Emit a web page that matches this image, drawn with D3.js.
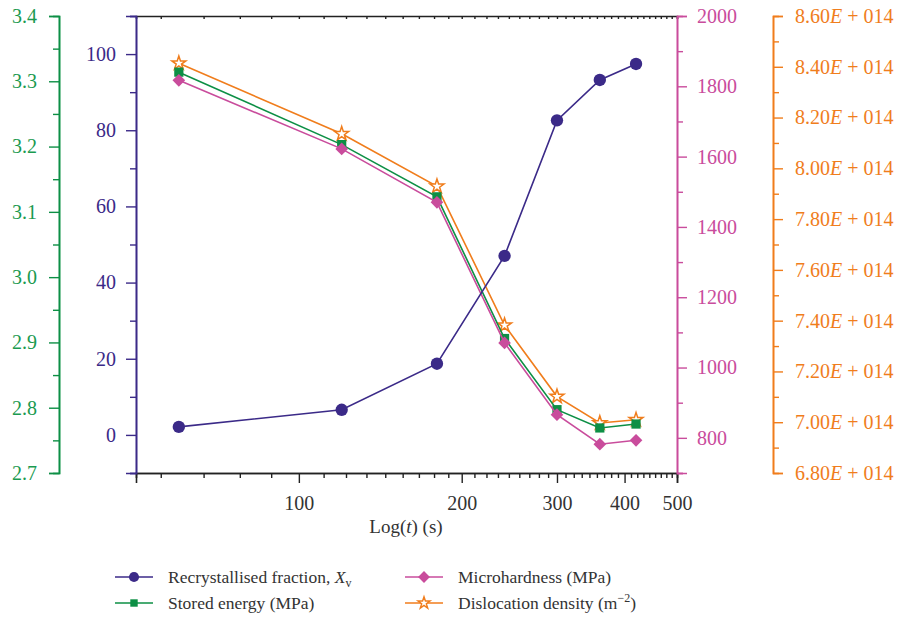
<!DOCTYPE html>
<html><head><meta charset="utf-8">
<script src="https://cdn.jsdelivr.net/npm/d3@7"></script>
<style>
body{margin:0;background:#fff;}
svg{font-family:"Liberation Serif","Times New Roman",serif;}
</style></head>
<body><svg id="c" width="899" height="618"></svg>
<script>
// ---- data ----
const times = [60, 120, 180, 240, 300, 360, 420];
const recrystallised = [2.1, 6.6, 18.7, 47, 82.6, 93.2, 97.4];
const storedEnergy = [3.314, 3.203, 3.123, 2.906, 2.797, 2.769, 2.775];
const microhardness = [1817, 1622, 1470, 1070, 866, 782, 793];
const dislocation = [8.414, 8.136, 7.929, 7.382, 7.101, 6.997, 7.010]; // x 1e14
const xTicks = [100, 200, 300, 400, 500];
const recTicks = [0, 20, 40, 60, 80, 100];
const energyTicks = [2.7, 2.8, 2.9, 3.0, 3.1, 3.2, 3.3, 3.4];
const hardTicks = [800, 1000, 1200, 1400, 1600, 1800, 2000];
const disTicks = [6.8, 7.0, 7.2, 7.4, 7.6, 7.8, 8.0, 8.2, 8.4, 8.6];

const C = {purple:"#3b2a88", green:"#0d8f45", pink:"#c94c9c", orange:"#f07d1c", black:"#222"};
const svg = d3.select("#c");
const L = 136, R = 677, T = 16, B = 473;

const x = d3.scaleLog().domain([50, 500]).range([L, R]);
const yRec = d3.scaleLinear().domain([-10, 110]).range([B, T]);
const yEn = d3.scaleLinear().domain([2.7, 3.4]).range([B, T]);
const yHard = d3.scaleLinear().domain([700, 2000]).range([B, T]);
const yDis = d3.scaleLinear().domain([6.8, 8.6]).range([B, T]);

function styleAxis(g, color, size){
  g.select(".domain").attr("stroke", color).attr("stroke-width", 1.6);
  g.selectAll(".tick line").attr("stroke", color).attr("stroke-width", 1.4);
  g.selectAll("text").attr("fill", color).attr("font-size", size || 20).attr("font-family", "Liberation Serif, serif");
}
// minor x ticks (Origin style: 8 minor ticks per 100)
const xMinor = d3.range(1, 46).map(k => k * 100 / 9).filter(v => v >= 50 && v <= 500 && Math.abs(v/100 - Math.round(v/100)) > 1e-6);

// ---- x axis ----
const gxm = svg.append("g").attr("transform", `translate(0,${B})`)
  .call(d3.axisBottom(x).tickValues(xMinor).tickSize(5).tickFormat(""));
styleAxis(gxm, C.black);
const gx = svg.append("g").attr("transform", `translate(0,${B})`)
  .call(d3.axisBottom(x).tickValues(xTicks).tickSize(10).tickPadding(13).tickFormat(d3.format("d")));
styleAxis(gx, C.black);
gx.selectAll("text").attr("fill", "#333");
// top frame
const gt = svg.append("g").attr("transform", `translate(0,${T})`)
  .call(d3.axisTop(x).tickValues(xMinor.concat(xTicks)).tickSize(-3).tickFormat(""));
styleAxis(gt, C.black);

svg.append("text").attr("x", 406).attr("y", 533).attr("text-anchor", "middle")
  .attr("font-size", 19).attr("fill", "#333")
  .call(t => { t.append("tspan").text("Log("); t.append("tspan").attr("font-style","italic").text("t"); t.append("tspan").text(") (s)"); });

// ---- left purple axis ----
const gpm = svg.append("g").attr("transform", `translate(${L},0)`)
  .call(d3.axisLeft(yRec).tickValues([-10,10,30,50,70,90,110]).tickSize(6).tickFormat(""));
styleAxis(gpm, C.purple);
const gp = svg.append("g").attr("transform", `translate(${L},0)`)
  .call(d3.axisLeft(yRec).tickValues(recTicks).tickSize(10).tickPadding(10));
styleAxis(gp, C.purple);

// ---- far left green axis ----
const GX = 59;
const gem = svg.append("g").attr("transform", `translate(${GX},0)`)
  .call(d3.axisLeft(yEn).tickValues(d3.range(2.75, 3.4, 0.1)).tickSize(6).tickFormat(""));
styleAxis(gem, C.green);
const ge = svg.append("g").attr("transform", `translate(${GX},0)`)
  .call(d3.axisLeft(yEn).tickValues(energyTicks).tickSize(10).tickPadding(12).tickFormat(d3.format(".1f")));
styleAxis(ge, C.green);
ge.selectAll("text").attr("fill", "#1a9a50");

// ---- right pink axis ----
const ghm = svg.append("g").attr("transform", `translate(${R},0)`)
  .call(d3.axisRight(yHard).tickValues(d3.range(700, 2000, 100).filter(v => v % 200 !== 0)).tickSize(6).tickFormat(""));
styleAxis(ghm, C.pink);
const gh = svg.append("g").attr("transform", `translate(${R},0)`)
  .call(d3.axisRight(yHard).tickValues(hardTicks).tickSize(10).tickPadding(10).tickFormat(d3.format("d")));
styleAxis(gh, C.pink);

// ---- far right orange axis ----
const OX = 773;
const gom = svg.append("g").attr("transform", `translate(${OX},0)`)
  .call(d3.axisRight(yDis).tickValues(d3.range(6.9, 8.6, 0.2)).tickSize(6).tickFormat(""));
styleAxis(gom, C.orange);
const go = svg.append("g").attr("transform", `translate(${OX},0)`)
  .call(d3.axisRight(yDis).tickValues(disTicks).tickSize(10).tickPadding(12));
styleAxis(go, C.orange);
go.selectAll("text").each(function(d){
  const t = d3.select(this).text("");
  t.append("tspan").text(d.toFixed(2));
  t.append("tspan").attr("font-style","italic").text("E");
  t.append("tspan").text(" + 014");
});

// ---- series ----
function series(vals, yScale, color, sym, size, fill, rot){
  const pts = times.map((t,i) => [x(t), yScale(vals[i])]);
  svg.append("path").attr("d", d3.line()(pts)).attr("fill","none").attr("stroke", color).attr("stroke-width", 1.6);
  svg.append("g").selectAll("path").data(pts).join("path")
    .attr("transform", d => `translate(${d[0]},${d[1]}) rotate(${rot||0})`)
    .attr("d", d3.symbol(sym, size)())
    .attr("fill", fill || color).attr("stroke", color).attr("stroke-width", fill ? 1.5 : 0);
}
series(dislocation, yDis, C.orange, d3.symbolStar, 60, "#fff");
series(storedEnergy, yEn, C.green, d3.symbolSquare, 85);
series(microhardness, yHard, C.pink, d3.symbolSquare, 80, null, 45);
series(recrystallised, yRec, C.purple, d3.symbolCircle, 120);

// ---- legend ----
const legend = [
  {col:0,row:0,color:C.purple,sym:d3.symbolCircle,size:80,label:"rec"},
  {col:0,row:1,color:C.green,sym:d3.symbolSquare,size:55,label:"Stored energy (MPa)"},
  {col:1,row:0,color:C.pink,sym:d3.symbolSquare,size:70,rot:45,label:"Microhardness (MPa)"},
  {col:1,row:1,color:C.orange,sym:d3.symbolStar,size:45,label:"dis",fill:"#fff"}
];
const colX = [115, 405], rowY = [577, 603];
legend.forEach(e => {
  const g = svg.append("g").attr("transform", `translate(${colX[e.col]},${rowY[e.row]})`);
  g.append("line").attr("x1",0).attr("x2",38).attr("stroke",e.color).attr("stroke-width",1.6);
  g.append("path").attr("transform",`translate(19,0) rotate(${e.rot||0})`).attr("d", d3.symbol(e.sym, e.size)())
    .attr("fill", e.fill || e.color).attr("stroke", e.color).attr("stroke-width", e.fill ? 1.4 : 0);
  const t = g.append("text").attr("x", 53).attr("y", 6).attr("font-size", 17.5).attr("fill", "#333");
  if (e.label === "rec") {
    t.append("tspan").text("Recrystallised fraction, ");
    t.append("tspan").attr("font-style","italic").text("X");
    t.append("tspan").attr("font-size", 12).attr("dy", 4).text("v");
  } else if (e.label === "dis") {
    t.append("tspan").text("Dislocation density (m");
    t.append("tspan").attr("font-size", 12).attr("dy", -7).text("−2");
    t.append("tspan").attr("dy", 7).text(")");
  } else t.text(e.label);
});
</script></body></html>
